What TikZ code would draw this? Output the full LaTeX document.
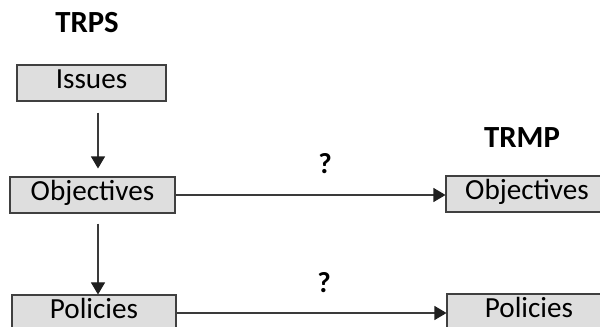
\documentclass[tikz,border=0pt]{standalone}
\usepackage{fontspec}
\setmainfont{Carlito}
\usetikzlibrary{arrows.meta}
\definecolor{boxfill}{HTML}{DEDEDE}
\definecolor{boxline}{HTML}{404040}
\definecolor{conline}{HTML}{3A3A3A}
\begin{document}
\begin{tikzpicture}[x=0.02cm,y=-0.02cm,
  box/.style={draw=boxline,fill=boxfill,line width=0.6pt,inner sep=0pt,
    minimum height=0.72cm,text height=7.2pt,text depth=1.2pt,
    font=\fontsize{16.6}{19}\selectfont},
  heading/.style={font=\bfseries\fontsize{17.5}{20}\selectfont,inner sep=0pt},
  qmark/.style={font=\bfseries\fontsize{16.5}{19}\selectfont,inner sep=0pt},
  conn/.style={draw=conline,line width=0.6pt,
    -{Triangle[length=0.24cm,width=0.28cm,fill=black!88,color=black!88]}}]
\useasboundingbox (0,0) rectangle (600,327);
\clip (0,0) rectangle (600,327);
\fill[white] (0,0) rectangle (600,327);
\node[heading] (trps) at (87,23) {TRPS};
\node[heading] (trmp) at (522,138) {TRMP};
\node[box,minimum width=2.98cm] (iss) at (91.5,83) {Issues};
\node[box,minimum width=3.30cm] (lobj) at (92.5,195) {Objectives};
\node[box,minimum width=3.28cm] (lpol) at (94,313) {Policies};
\node[box,minimum width=3.24cm] (robj) at (527,194) {Objectives};
\node[box,minimum width=3.28cm] (rpol) at (529,312) {Policies};
\node[qmark] (q1) at (325,164) {?};
\node[qmark] (q2) at (324,283) {?};
\draw[conn,shorten <=0.22cm,shorten >=0.16cm] ([xshift=0.13cm]iss.south) -- ([xshift=0.13cm]iss.south |- lobj.north);
\draw[conn,shorten <=0.20cm] ([xshift=0.11cm]lobj.south) -- ([xshift=0.11cm]lobj.south |- lpol.north);
\draw[conn] (lobj.east) -- (lobj.east -| robj.west);
\draw[conn] (lpol.east) -- (lpol.east -| rpol.west);
\end{tikzpicture}
\end{document}
